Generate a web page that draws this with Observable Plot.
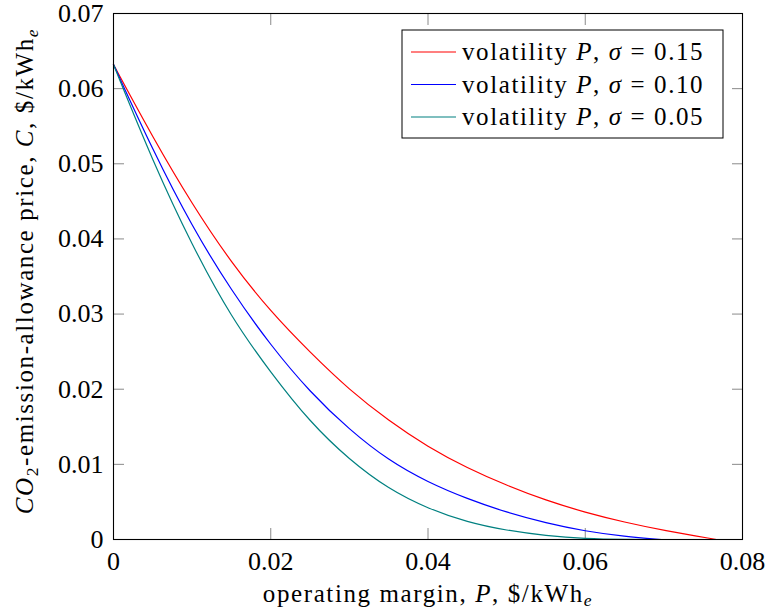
<!DOCTYPE html>
<html>
<head>
<meta charset="utf-8">
<script src="https://cdn.jsdelivr.net/npm/d3@7"></script>
<script src="https://cdn.jsdelivr.net/npm/@observablehq/plot@0.6"></script>
<style>
  html, body { margin: 0; padding: 0; background: #fff; }
  #chart { position: relative; width: 767px; height: 611px; }
</style>
</head>
<body>
<div id="chart"></div>
<script>
// ---- data ----
const seriesNames = ["0.15", "0.10", "0.05"];
const seriesColors = ["#ff0000", "#0000ff", "#008080"];

const P_015 = [0, 0.005, 0.010, 0.015, 0.020, 0.025, 0.030, 0.035, 0.040, 0.045, 0.050, 0.055, 0.060, 0.065, 0.070, 0.0767];
const C_015 = [0.0632, 0.0535, 0.0446, 0.0368, 0.0303, 0.0249, 0.0199, 0.0158, 0.0123, 0.0095, 0.0072, 0.0052, 0.0036, 0.0023, 0.0012, 0.0000];

const P_010 = [0, 0.005, 0.010, 0.015, 0.020, 0.025, 0.030, 0.035, 0.040, 0.045, 0.050, 0.055, 0.060, 0.065, 0.0697];
const C_010 = [0.0632, 0.0518, 0.0416, 0.0331, 0.0258, 0.0196, 0.0146, 0.0105, 0.0076, 0.0054, 0.0036, 0.0022, 0.0011, 0.0004, 0.0000];

const P_005 = [0, 0.005, 0.010, 0.015, 0.020, 0.025, 0.030, 0.035, 0.040, 0.045, 0.050, 0.055, 0.060, 0.065, 0.070];
const C_005 = [0.0632, 0.0503, 0.0391, 0.0295, 0.0222, 0.0156, 0.0106, 0.0067, 0.0041, 0.0023, 0.0012, 0.0005, 0.0001, 0.0000, 0.0000];

const xTicks = [0, 0.02, 0.04, 0.06, 0.08];
const yTicks = [0, 0.01, 0.02, 0.03, 0.04, 0.05, 0.06, 0.07];

// ---- build table ----
const seriesP = [P_015, P_010, P_005];
const seriesC = [C_015, C_010, C_005];
const rows = [];
seriesNames.forEach((s, i) => {
  seriesP[i].forEach((p, j) => rows.push({sigma: s, P: p, C: seriesC[i][j]}));
});

const fmt = d => d === 0 ? "0" : d.toFixed(2);
const FONT = "'Liberation Serif', 'DejaVu Serif', serif";
const FS = 25;
const LS = "1.6px";
const tickColor = "#8a8a8a";

const plot = Plot.plot({
  width: 767,
  height: 611,
  marginLeft: 113,
  marginRight: 25,
  marginTop: 13,
  marginBottom: 72,
  style: {fontFamily: FONT, fontSize: "26px", background: "white", color: "black"},
  x: {domain: [0, 0.08], ticks: xTicks, label: null},
  y: {domain: [0, 0.07], ticks: yTicks, label: null},
  color: {domain: seriesNames, range: seriesColors},
  marks: [
    Plot.axisX({anchor: "bottom", ticks: xTicks, tickSize: -11, tickPadding: 23, tickFormat: fmt, label: null, stroke: tickColor, fill: "black"}),
    Plot.axisX({anchor: "top", ticks: xTicks, tickSize: -11, tickFormat: () => "", label: null, stroke: tickColor}),
    Plot.axisY({anchor: "left", ticks: yTicks, tickSize: -11, tickPadding: 21, tickFormat: fmt, label: null, stroke: tickColor, fill: "black"}),
    Plot.axisY({anchor: "right", ticks: yTicks, tickSize: -11, tickFormat: () => "", label: null, stroke: tickColor}),
    Plot.line(rows, {x: "P", y: "C", z: "sigma", stroke: "sigma", strokeWidth: 1.2, curve: "basis"}),
    Plot.frame({stroke: "black", strokeWidth: 1.1})
  ]
});

document.getElementById("chart").appendChild(plot);

// ---- axis titles with math styling ----
const svg = d3.select(plot);
const ns = (sel) => sel.style("font-family", FONT).attr("font-size", FS).attr("fill", "black").style("letter-spacing", LS);

const xl = svg.append("text").call(ns)
  .attr("x", 428).attr("y", 602).attr("text-anchor", "middle");
xl.append("tspan").text("operating margin, ");
xl.append("tspan").attr("font-style", "italic").text("P");
xl.append("tspan").text(", $/kWh");
xl.append("tspan").attr("font-style", "italic").attr("font-size", FS * 0.7).attr("dy", 4).text("e");

const yl = svg.append("text").call(ns)
  .attr("transform", "translate(33,271) rotate(-90)").attr("text-anchor", "middle");
yl.append("tspan").attr("font-style", "italic").text("CO");
yl.append("tspan").attr("font-size", FS * 0.7).attr("dy", 5).text("2");
yl.append("tspan").attr("dy", -5).text("-emission-allowance price, ");
yl.append("tspan").attr("font-style", "italic").text("C");
yl.append("tspan").text(", $/kWh");
yl.append("tspan").attr("font-style", "italic").attr("font-size", FS * 0.7).attr("dy", 5).text("e");

// ---- legend ----
const lg = svg.append("g");
lg.append("rect").attr("x", 402).attr("y", 30).attr("width", 321).attr("height", 108)
  .attr("fill", "white").attr("stroke", "black").attr("stroke-width", 1);
seriesNames.forEach((s, i) => {
  const yy = 52 + i * 32.5;
  lg.append("line").attr("x1", 411).attr("x2", 456).attr("y1", yy).attr("y2", yy)
    .attr("stroke", seriesColors[i]).attr("stroke-width", 1.2);
  const t = lg.append("text").call(ns).attr("x", 462).attr("y", yy + 8).attr("text-anchor", "start");
  t.append("tspan").text("volatility ");
  t.append("tspan").attr("font-style", "italic").text("P");
  t.append("tspan").text(", ");
  t.append("tspan").attr("font-style", "italic").text("σ");
  t.append("tspan").text(" = " + s);
});
</script>
</body>
</html>
